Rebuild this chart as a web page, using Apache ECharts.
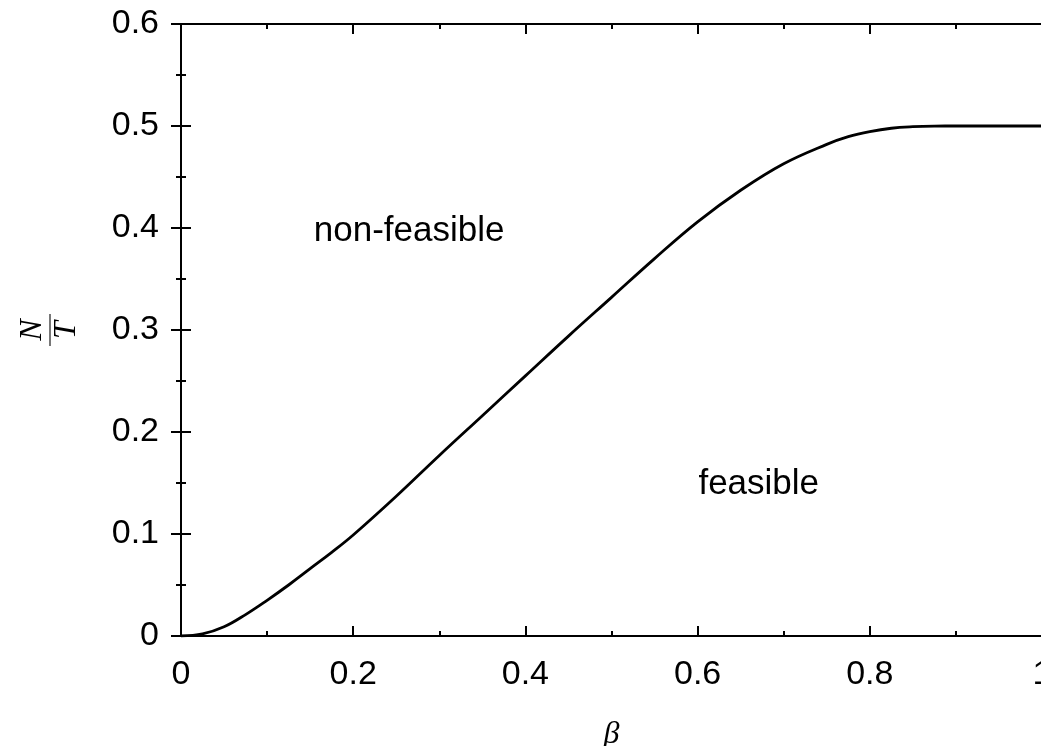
<!DOCTYPE html>
<html>
<head>
<meta charset="utf-8">
<script src="https://cdn.jsdelivr.net/npm/echarts@6/dist/echarts.min.js"></script>
<style>
  html, body {margin: 0; padding: 0; background: #fff;}
  #chart {width: 1041px; height: 746px;}
</style>
</head>
<body>
<div id="chart"></div>
<script>
// boundary curve
const beta = [0, 0.025, 0.05, 0.075, 0.1, 0.125, 0.15, 0.175, 0.2, 0.25, 0.3, 0.35, 0.4, 0.45, 0.5, 0.55, 0.6, 0.65, 0.7, 0.75, 0.775, 0.8, 0.825, 0.85, 0.875, 0.9, 0.95, 1.0];
const ratio = [0, 0.002, 0.009, 0.021, 0.035, 0.05, 0.066, 0.082, 0.099, 0.137, 0.177, 0.216, 0.255, 0.294, 0.332, 0.37, 0.406, 0.437, 0.463, 0.482, 0.4895, 0.4945, 0.4978, 0.4993, 0.4999, 0.5, 0.5, 0.5];

const xTicks = [0, 0.2, 0.4, 0.6, 0.8, 1];
const yTicks = [0, 0.1, 0.2, 0.3, 0.4, 0.5, 0.6];

const regionLabels = ['non-feasible', 'feasible'];
const regionAt = [[0.265, 0.397], [0.671, 0.149]];

const fmt = v => (v === 0 ? '0' : (Math.abs(v - 1) < 1e-9 ? '1' : v.toFixed(1)));
const labelFont = 'Liberation Sans, Arial, sans-serif';

const chart = echarts.init(document.getElementById('chart'));

const baseAxis = {
  axisLine: {show: true, onZero: false, lineStyle: {color: '#000', width: 2}},
  axisTick: {show: true, inside: true, length: 10, lineStyle: {color: '#000', width: 2}},
  minorTick: {show: true, splitNumber: 2, length: 5, lineStyle: {color: '#000', width: 2}},
  splitLine: {show: false},
  minorSplitLine: {show: false},
};

chart.setOption({
  animation: false,
  grid: {left: 181, right: -1, top: 24, bottom: 110, outerBoundsMode: 'none', containLabel: false},
  xAxis: [
    Object.assign({}, baseAxis, {
      type: 'value', position: 'bottom',
      min: xTicks[0], max: xTicks[xTicks.length - 1], interval: 0.2,
      axisLabel: {show: true, color: '#000', fontSize: 34, fontFamily: labelFont, margin: 22, formatter: fmt},
      name: 'β', nameLocation: 'middle', nameGap: 83,
      nameTextStyle: {color: '#000', fontSize: 32, fontStyle: 'italic', fontFamily: 'Liberation Serif, DejaVu Serif, serif'}
    }),
    Object.assign({}, baseAxis, {
      type: 'value', position: 'top',
      min: xTicks[0], max: xTicks[xTicks.length - 1], interval: 0.2,
      axisLabel: {show: false}
    })
  ],
  yAxis: [
    Object.assign({}, baseAxis, {
      type: 'value', position: 'left',
      min: yTicks[0], max: yTicks[yTicks.length - 1], interval: 0.1,
      axisLabel: {show: true, color: '#000', fontSize: 34, fontFamily: labelFont, margin: 22, formatter: fmt},
      name: '{n|N}\n{b| }\n{t|T}', nameLocation: 'middle', nameRotate: 90, nameGap: 100,
      nameTextStyle: {
        rich: {
          n: {fontSize: 32, fontStyle: 'italic', fontFamily: 'Liberation Serif, serif', color: '#000', lineHeight: 28, align: 'center'},
          b: {width: 32, height: 2, lineHeight: 6, fontSize: 2, backgroundColor: '#777', align: 'center'},
          t: {fontSize: 32, fontStyle: 'italic', fontFamily: 'Liberation Serif, serif', color: '#000', lineHeight: 28, align: 'center'}
        }
      }
    }),
    Object.assign({}, baseAxis, {
      type: 'value', position: 'right',
      min: yTicks[0], max: yTicks[yTicks.length - 1], interval: 0.1,
      axisLine: {show: false},
      axisLabel: {show: false}
    })
  ],
  series: [{
    type: 'line',
    xAxisIndex: 0, yAxisIndex: 0,
    data: beta.map((b, i) => [b, ratio[i]]),
    smooth: 0.4,
    showSymbol: false,
    lineStyle: {color: '#000', width: 2.8},
    markPoint: {
      symbol: 'circle', symbolSize: 0,
      label: {show: true, position: 'inside', color: '#000', fontSize: 35, fontFamily: labelFont, formatter: p => p.name},
      data: regionLabels.map((t, i) => ({name: t, coord: regionAt[i]}))
    }
  }]
});
</script>
</body>
</html>
